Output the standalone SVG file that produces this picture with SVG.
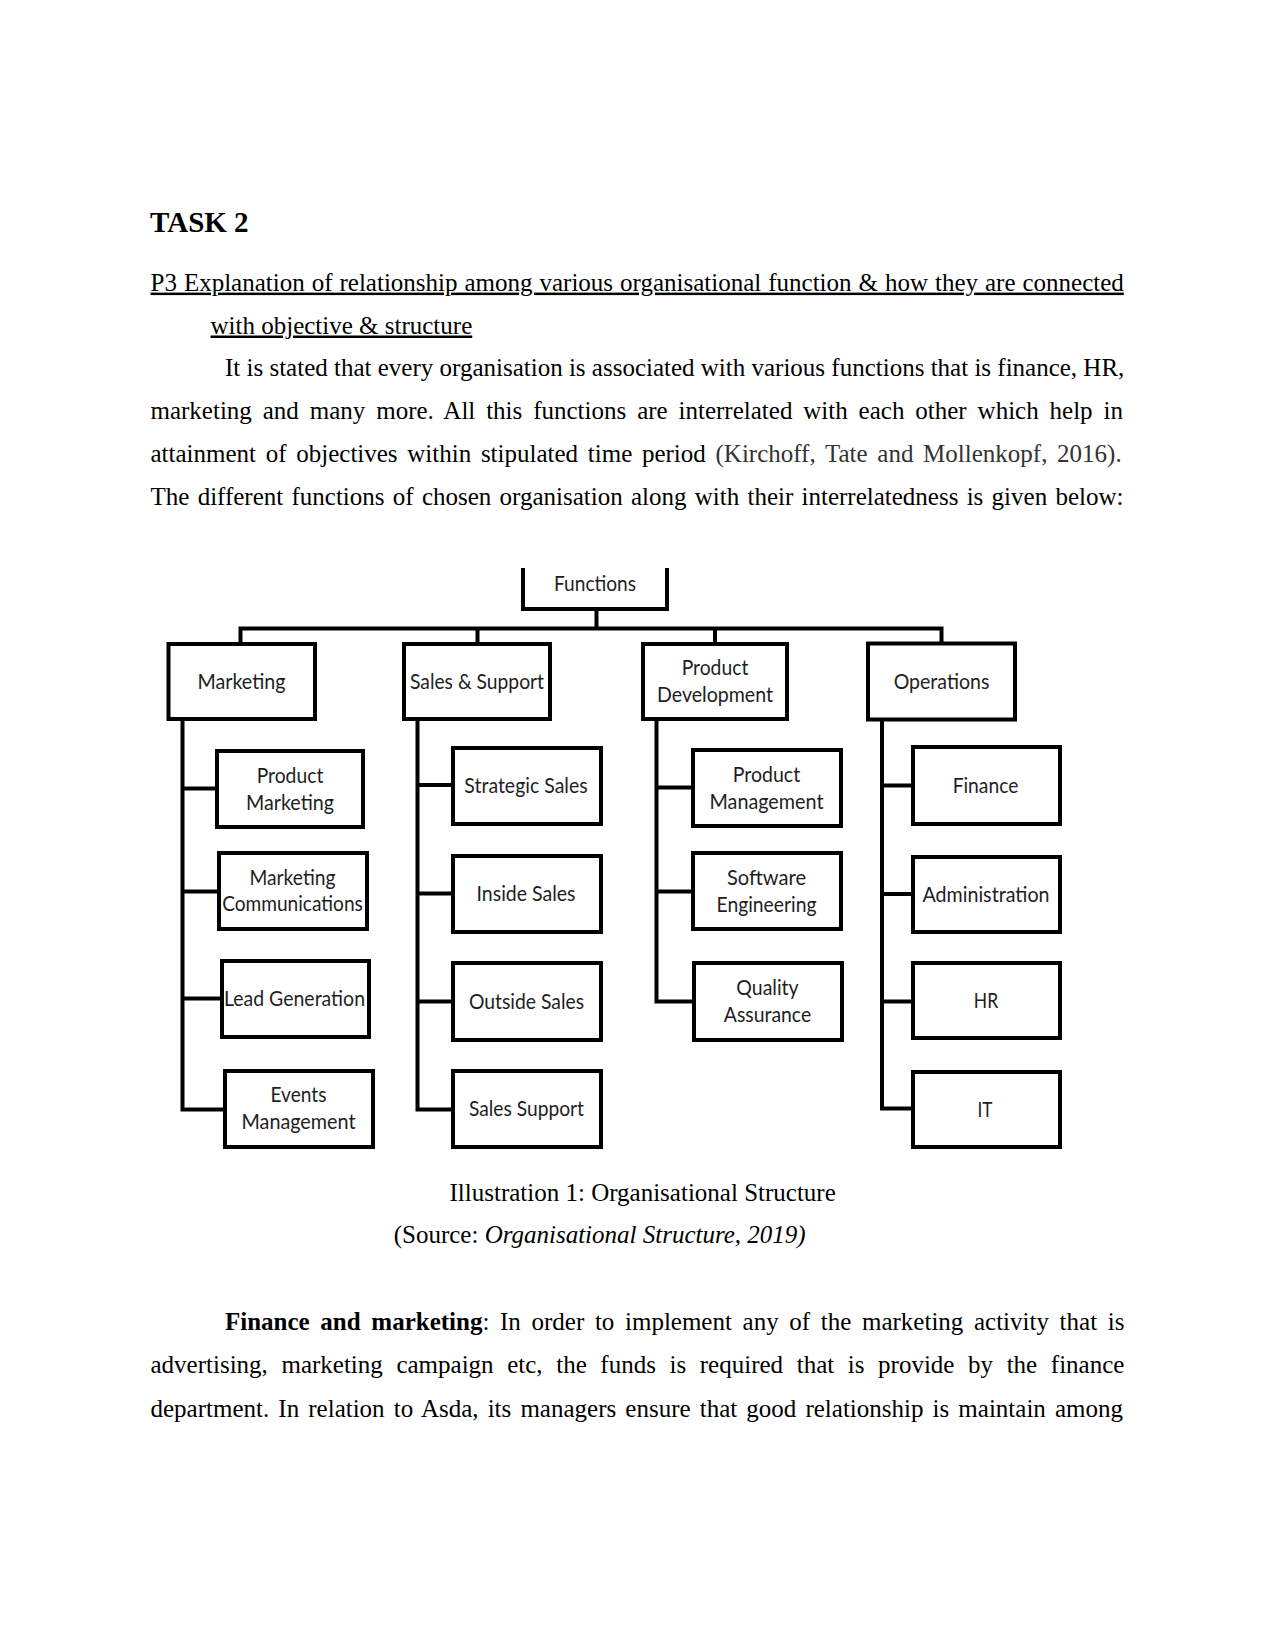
<svg xmlns="http://www.w3.org/2000/svg" width="1275" height="1651" viewBox="0 0 1275 1651">
<style>
.body{font-family:"Liberation Serif","Times New Roman",serif;font-size:25px;fill:#000}
.box{fill:#fff;stroke:#000;stroke-width:4}
.lbl{font-family:Lato,"Liberation Sans",sans-serif;font-size:21.5px;fill:#1e1e1e;text-anchor:middle}
.conn{fill:none;stroke:#000;stroke-width:4}
</style>
<rect width="1275" height="1651" fill="#fff"/>
<g id="text">
<text class="body" x="150" y="231.5" style="font-size:29px;font-weight:bold">TASK 2</text>
<text class="body" x="150.5" y="290.6" word-spacing="0.73" text-decoration="underline">P3 Explanation of relationship among various organisational function &amp; how they are connected</text>
<text class="body" x="210.5" y="333.5" text-decoration="underline">with objective &amp; structure</text>
<text class="body" x="225" y="376">It is stated that every organisation is associated with various functions that is finance, HR,</text>
<text class="body" x="150.5" y="419" word-spacing="4.65">marketing and many more. All this functions are interrelated with each other which help in</text>
<text class="body" x="150.5" y="462" word-spacing="3.45">attainment of objectives within stipulated time period <tspan fill="#333">(Kirchoff, Tate and Mollenkopf, 2016).</tspan></text>
<text class="body" x="150.5" y="505" word-spacing="2.01">The different functions of chosen organisation along with their interrelatedness is given below:</text>
<text class="body" x="449.5" y="1200.5">Illustration 1: Organisational Structure</text>
<text class="body" x="393.7" y="1243">(Source: <tspan font-style="italic">Organisational Structure, 2019)</tspan></text>
<text class="body" x="225" y="1330" word-spacing="4.4"><tspan font-weight="bold">Finance and marketing</tspan>: In order to implement any of the marketing activity that is</text>
<text class="body" x="150.5" y="1373" word-spacing="7.36">advertising, marketing campaign etc, the funds is required that is provide by the finance</text>
<text class="body" x="150.5" y="1416.5" word-spacing="2.87">department. In relation to Asda, its managers ensure that good relationship is maintain among</text>
</g>
<g id="connectors" class="conn">
<path d="M596.5,609 V628.5"/>
<path d="M240.5,644 V628.5 H941.5 V644"/>
<path d="M477.5,628.5 V644"/>
<path d="M715,628.5 V644"/>
<path d="M182.5,719 V1109.5 H225 M182.5,788.5 H217 M182.5,891.5 H219 M182.5,998.5 H222"/>
<path d="M417.5,719 V1109.5 H453 M417.5,785 H453 M417.5,893.5 H453 M417.5,1001.5 H453"/>
<path d="M656.5,719 V1001.5 H694 M656.5,787.5 H693 M656.5,891.5 H693"/>
<path d="M882,719 V1108.5 H913 M882,785.5 H913 M882,894 H913 M882,1001.5 H913"/>
</g>
<g id="functions">
<path d="M523,568 V609 H667 V568" fill="#fff" stroke="#000" stroke-width="4"/>
<text class="lbl" x="595" y="590.7" textLength="82" lengthAdjust="spacingAndGlyphs">Functions</text>
</g>
<g id="marketing"><rect class="box" x="168.5" y="644" width="146.5" height="75"/><text class="lbl" x="241.5" y="688.5" textLength="88" lengthAdjust="spacingAndGlyphs">Marketing</text></g>
<g id="sales-support"><rect class="box" x="404" y="644" width="146" height="75"/><text class="lbl" x="477" y="688.5" textLength="134" lengthAdjust="spacingAndGlyphs">Sales &amp; Support</text></g>
<g id="product-development"><rect class="box" x="643" y="644" width="144" height="75"/><text class="lbl" x="715" y="675" textLength="66.7" lengthAdjust="spacingAndGlyphs">Product</text><text class="lbl" x="715" y="702" textLength="116" lengthAdjust="spacingAndGlyphs">Development</text></g>
<g id="operations"><rect class="box" x="868" y="643.5" width="147" height="76"/><text class="lbl" x="941.5" y="688.5" textLength="95.7" lengthAdjust="spacingAndGlyphs">Operations</text></g>
<g id="product-marketing"><rect class="box" x="217" y="751" width="146" height="76"/><text class="lbl" x="290" y="782.5" textLength="66.7" lengthAdjust="spacingAndGlyphs">Product</text><text class="lbl" x="290" y="809.5" textLength="88" lengthAdjust="spacingAndGlyphs">Marketing</text></g>
<g id="marketing-communications"><rect class="box" x="219" y="853" width="148" height="76"/><text class="lbl" x="292.5" y="884.5" textLength="86" lengthAdjust="spacingAndGlyphs">Marketing</text><text class="lbl" x="292.5" y="911" textLength="140.7" lengthAdjust="spacingAndGlyphs">Communications</text></g>
<g id="lead-generation"><rect class="box" x="222" y="961" width="147" height="76"/><text class="lbl" x="294.5" y="1006" textLength="141" lengthAdjust="spacingAndGlyphs">Lead Generation</text></g>
<g id="events-management"><rect class="box" x="225" y="1071" width="148" height="76"/><text class="lbl" x="298.5" y="1102" textLength="56" lengthAdjust="spacingAndGlyphs">Events</text><text class="lbl" x="298.5" y="1129" textLength="114" lengthAdjust="spacingAndGlyphs">Management</text></g>
<g id="strategic-sales"><rect class="box" x="453" y="748" width="148" height="76"/><text class="lbl" x="526" y="793" textLength="123.3" lengthAdjust="spacingAndGlyphs">Strategic Sales</text></g>
<g id="inside-sales"><rect class="box" x="453" y="856" width="148" height="76"/><text class="lbl" x="526" y="901" textLength="99" lengthAdjust="spacingAndGlyphs">Inside Sales</text></g>
<g id="outside-sales"><rect class="box" x="453" y="963" width="148" height="77"/><text class="lbl" x="526.5" y="1008.5" textLength="115" lengthAdjust="spacingAndGlyphs">Outside Sales</text></g>
<g id="sales-support-child"><rect class="box" x="453" y="1071" width="148" height="76"/><text class="lbl" x="526.5" y="1116" textLength="115" lengthAdjust="spacingAndGlyphs">Sales Support</text></g>
<g id="product-management"><rect class="box" x="693" y="750" width="148" height="76"/><text class="lbl" x="766.5" y="781.5" textLength="67.3" lengthAdjust="spacingAndGlyphs">Product</text><text class="lbl" x="766.5" y="808.5" textLength="114" lengthAdjust="spacingAndGlyphs">Management</text></g>
<g id="software-engineering"><rect class="box" x="693" y="853" width="148" height="76"/><text class="lbl" x="766.5" y="884.5" textLength="79" lengthAdjust="spacingAndGlyphs">Software</text><text class="lbl" x="766.5" y="911.5" textLength="100" lengthAdjust="spacingAndGlyphs">Engineering</text></g>
<g id="quality-assurance"><rect class="box" x="694" y="963" width="148" height="77"/><text class="lbl" x="767.5" y="995" textLength="62.3" lengthAdjust="spacingAndGlyphs">Quality</text><text class="lbl" x="767.5" y="1022" textLength="87.3" lengthAdjust="spacingAndGlyphs">Assurance</text></g>
<g id="finance"><rect class="box" x="913" y="747" width="147" height="77"/><text class="lbl" x="985.5" y="792.5" textLength="65.7" lengthAdjust="spacingAndGlyphs">Finance</text></g>
<g id="administration"><rect class="box" x="913" y="857" width="147" height="75"/><text class="lbl" x="986" y="901.5" textLength="127" lengthAdjust="spacingAndGlyphs">Administration</text></g>
<g id="hr"><rect class="box" x="913" y="963" width="147" height="75"/><text class="lbl" x="986" y="1007.5" textLength="24.3" lengthAdjust="spacingAndGlyphs">HR</text></g>
<g id="it"><rect class="box" x="913" y="1072" width="147" height="75"/><text class="lbl" x="985" y="1116.5" textLength="15" lengthAdjust="spacingAndGlyphs">IT</text></g>
</svg>
